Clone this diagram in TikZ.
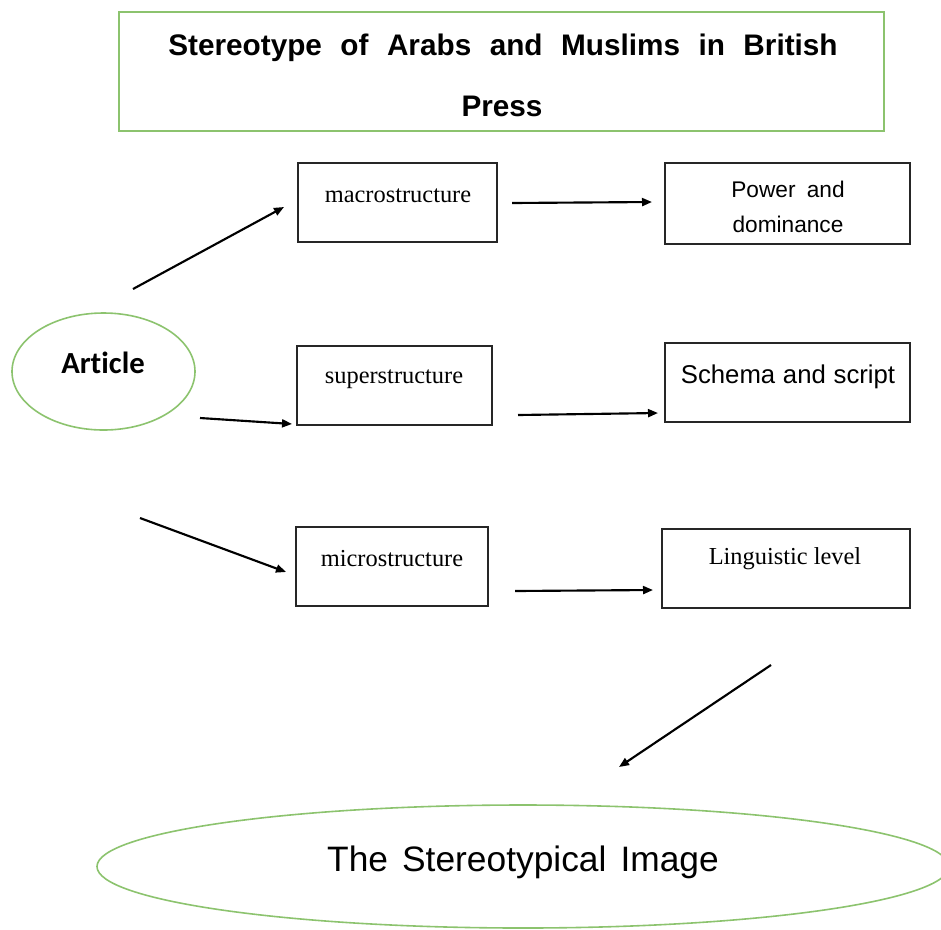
\documentclass[tikz,border=0pt]{standalone}
\usepackage{fontspec}
\setmainfont{Liberation Serif}
\newfontfamily\arialf{Liberation Sans}
\newfontfamily\calibf[Ligatures=NoCommon]{Carlito}
\usetikzlibrary{shapes.geometric,arrows.meta}
\definecolor{boxgreen}{RGB}{140,195,110}
\begin{document}
\begin{tikzpicture}[x=0.75pt,y=-0.75pt,
  box/.style={draw=black!85,line width=1.3pt,rectangle,inner sep=0pt},
  gbox/.style={draw=boxgreen,line width=1.4pt,rectangle,inner sep=0pt},
  gell/.style={draw=boxgreen,line width=1.2pt,ellipse,inner sep=0pt},
  sertxt/.style={font=\fontsize{18.3}{22}\selectfont,inner sep=0pt},
  santxt/.style={font=\arialf\fontsize{17}{20}\selectfont,inner sep=0pt},
  arr/.style={line width=1.6pt,-{Triangle[length=7.5pt,width=6pt]}}]
\useasboundingbox (0,0) rectangle (941,929);
\clip (0,0) rectangle (941,929);
% title
\node[gbox,minimum width=765*0.75pt,minimum height=119*0.75pt] (title) at (501.5,71.5) {};
\node[inner sep=0pt,font=\arialf\bfseries\fontsize{22.3}{26}\selectfont] (t1) at (503,48) {\makebox[502pt][s]{Stereotype of Arabs and Muslims in British}};
\node[inner sep=0pt,font=\arialf\bfseries\fontsize{22.3}{26}\selectfont] (t2) at (502,106) {Press};
% article
\node[gell,minimum width=183*0.75pt,minimum height=117*0.75pt] (art) at (103.5,371.5) {};
\node[inner sep=0pt,font=\calibf\bfseries\fontsize{23}{26}\selectfont] (artt) at (103,363) {Article};
% boxes
\node[box,minimum width=199*0.75pt,minimum height=79*0.75pt] (macro) at (397.5,202.5) {};
\node[sertxt] (macrot) at (398,196) {macrostructure};
\node[box,minimum width=195*0.75pt,minimum height=79*0.75pt] (super) at (394.5,385.5) {};
\node[sertxt] (supert) at (394,379) {superstructure};
\node[box,minimum width=192*0.75pt,minimum height=79*0.75pt] (micro) at (392,566.5) {};
\node[sertxt] (microt) at (392,559) {microstructure};
\node[box,minimum width=245*0.75pt,minimum height=81*0.75pt] (power) at (787.5,203.5) {};
\node[santxt] (powert1) at (788,189) {Power\hspace{0.5em}and};
\node[santxt] (powert2) at (788,224) {dominance};
\node[box,minimum width=245*0.75pt,minimum height=79*0.75pt] (schema) at (787.5,382.5) {};
\node[inner sep=0pt,font=\arialf\fontsize{19.3}{22}\selectfont] (schemat) at (788,377) {Schema\hspace{0.3em}and\hspace{0.3em}script};
\node[box,minimum width=248*0.75pt,minimum height=79*0.75pt] (ling) at (786,568.5) {};
\node[sertxt] (lingt) at (785,559) {Linguistic level};
% big ellipse
\node[gell,minimum width=852*0.75pt,minimum height=123*0.75pt] (img) at (523,866.5) {};
\node[inner sep=0pt,font=\arialf\fontsize{26.5}{30}\selectfont] (imgt) at (523,862) {The\hspace{0.4em}Stereotypical\hspace{0.4em}Image};
% connector endpoints
\coordinate (a1s) at (133,289); \coordinate (a1e) at (284,207);
\coordinate (a2s) at (200,418); \coordinate (a2e) at (292,424);
\coordinate (a3s) at (140,518); \coordinate (a3e) at (286,572);
\coordinate (a4s) at (512,203); \coordinate (a4e) at (652,202);
\coordinate (a5s) at (518,415); \coordinate (a5e) at (658,413);
\coordinate (a6s) at (515,591); \coordinate (a6e) at (653,590);
\coordinate (a7s) at (771,665); \coordinate (a7e) at (619,767);
\draw[arr] (a1s) -- (a1e);
\draw[arr] (a2s) -- (a2e);
\draw[arr] (a3s) -- (a3e);
\draw[arr] (a4s) -- (a4e);
\draw[arr] (a5s) -- (a5e);
\draw[arr] (a6s) -- (a6e);
\draw[arr] (a7s) -- (a7e);
\end{tikzpicture}
\end{document}
